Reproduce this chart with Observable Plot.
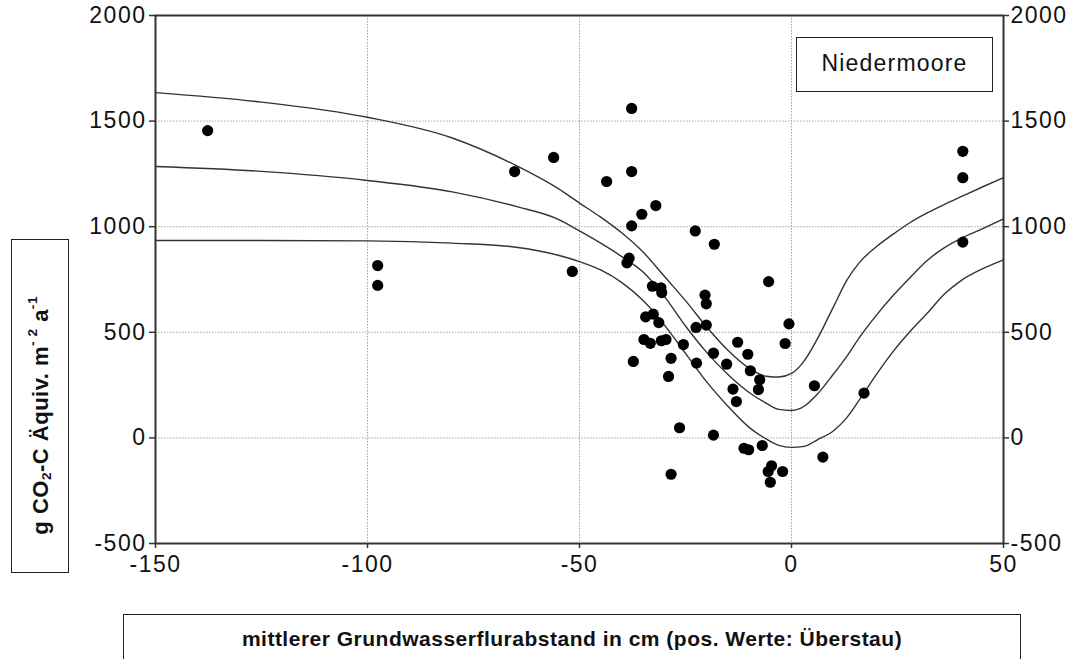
<!DOCTYPE html>
<html>
<head>
<meta charset="utf-8">
<script src="https://cdn.jsdelivr.net/npm/d3@7"></script>
<script src="https://cdn.jsdelivr.net/npm/@observablehq/plot@0.6"></script>
<style>
  html, body { margin: 0; padding: 0; background: #fff; }
  #wrap { position: relative; width: 1080px; height: 659px; overflow: hidden; font-family: "Liberation Sans", Arial, sans-serif; }
  .box { position: absolute; border: 1.5px solid #222; background: #fff; box-sizing: border-box; color: #111; }
  #ylab { left: 11px; top: 239px; width: 58px; height: 334px; display: flex; align-items: center; justify-content: center; }
  #ylab span { writing-mode: vertical-rl; transform: rotate(180deg); font-weight: bold; font-size: 22px; letter-spacing: 0.5px; white-space: nowrap; margin-bottom: -18px; }
  #xlab { left: 123px; top: 614px; width: 898px; height: 60px; font-weight: bold; font-size: 21px; text-align: center; padding-top: 12px; letter-spacing: 0.5px; }
  #leg { left: 796px; top: 37px; width: 197px; height: 55px; font-size: 23px; text-align: center; line-height: 51px; letter-spacing: 1.2px; }
  sub, sup { font-size: 62%; }
</style>
</head>
<body>
<div id="wrap">
  <div id="chart"></div>
  <div class="box" id="leg">Niedermoore</div>
  <div class="box" id="ylab"><span>g CO<sub>2</sub>-C Äquiv. m<sup>- 2</sup> a<sup>-1</sup></span></div>
  <div class="box" id="xlab">mittlerer Grundwasserflurabstand in cm (pos. Werte: Überstau)</div>
</div>
<script>
// Measured points: groundwater level (cm) vs CO2-C equivalent
const pointX = [-137.7,-97.6,-97.6,-65.3,-56.1,-51.7,-43.6,-37.7,-37.7,-37.7,-35.3,-32,-22.7,-18.2,-38.3,-38.8,-5.4,-32.8,-30.8,-30.6,-20.4,-20.1,-34.4,-32.6,-31.3,-22.5,-20.1,-0.6,-34.8,-33.3,-30.7,-29.6,-25.5,-12.7,-1.5,-10.3,-18.4,-37.3,-28.4,-22.4,-15.3,-9.7,-7.5,-29,-7.8,-13.8,-13,5.4,17.1,-26.4,-18.4,-11.2,-10.1,-6.9,7.4,-4.7,-5.5,-2.1,-5,-28.4,40.4,40.4,40.4];
const pointY = [1455,816,722,1261,1328,788,1214,1560,1261,1004,1059,1100,980,917,851,829,740,718,711,688,676,635,573,586,546,523,534,540,466,448,460,466,442,453,447,396,401,362,377,354,349,318,275,291,229,231,172,247,212,48,13,-49,-56,-36,-91,-132,-159,-159,-210,-172,1357,1232,927];

// Fitted curve and confidence band
const curveX  = [-150,-125,-100,-80,-65,-55,-50,-45,-40,-35,-30,-25,-20,-15,-10,-6,-3,0,3,6,10,13,16,20,24,28,32,36,40,45,50];
const upperY  = [1635,1590,1518,1420,1290,1180,1112,1045,970,880,765,650,525,415,330,292,288,305,365,465,625,745,830,905,965,1020,1065,1105,1142,1188,1232];
const middleY = [1285,1262,1219,1165,1096,1035,980,922,858,785,670,530,405,300,215,165,135,130,150,205,305,385,475,580,675,760,840,900,945,990,1037];
const lowerY  = [935,935,933,922,903,865,835,795,735,650,535,400,265,150,50,-5,-35,-45,-40,-10,35,95,180,300,410,505,590,680,745,800,843];

const xTicks = [-150,-100,-50,0,50];
const yTicks = [-500,0,500,1000,1500,2000];

const points = pointX.map((x, i) => ({x, y: pointY[i]}));
const curves = [
  ...curveX.map((x, i) => ({x, y: upperY[i], s: "upper"})),
  ...curveX.map((x, i) => ({x, y: middleY[i], s: "middle"})),
  ...curveX.map((x, i) => ({x, y: lowerY[i], s: "lower"}))
];

const tickFont = {fontSize: 23, fontFamily: "Liberation Sans, Arial, sans-serif"};

const chart = Plot.plot({
  width: 1080,
  height: 659,
  marginLeft: 155,
  marginRight: 77,
  marginTop: 15,
  marginBottom: 116,
  style: {fontFamily: "Liberation Sans, Arial, sans-serif", color: "#111", background: "#fff", letterSpacing: "1.5px"},
  x: {domain: [-150, 50]},
  y: {domain: [-500, 2000]},
  marks: [
    Plot.gridX([-100, -50, 0], {stroke: "#999", strokeOpacity: 0.9, strokeDasharray: "1.5,1.5", strokeWidth: 1}),
    Plot.gridY([0, 500, 1000, 1500], {stroke: "#999", strokeOpacity: 0.9, strokeDasharray: "1.5,1.5", strokeWidth: 1}),
    Plot.line(curves, {x: "x", y: "y", z: "s", curve: "monotone-x", stroke: "#333", strokeWidth: 1.4}),
    Plot.dot(points, {x: "x", y: "y", r: 5.6, fill: "#000", stroke: "none"}),
    Plot.frame({stroke: "#333", strokeWidth: 2}),
    Plot.axisY(yTicks, {anchor: "left", tickSize: 6, tickPadding: 3, stroke: "#333", strokeWidth: 1.5, label: null, tickFormat: d => String(d), ...tickFont}),
    Plot.axisY(yTicks, {anchor: "right", tickSize: 5, tickPadding: 2, stroke: "#333", strokeWidth: 1.5, label: null, tickFormat: d => String(d), ...tickFont}),
    Plot.axisX(xTicks, {anchor: "bottom", tickSize: 5, tickPadding: 7, stroke: "#333", strokeWidth: 1.5, label: null, tickFormat: d => String(d), ...tickFont})
  ]
});
document.getElementById("chart").appendChild(chart);
</script>
</body>
</html>
